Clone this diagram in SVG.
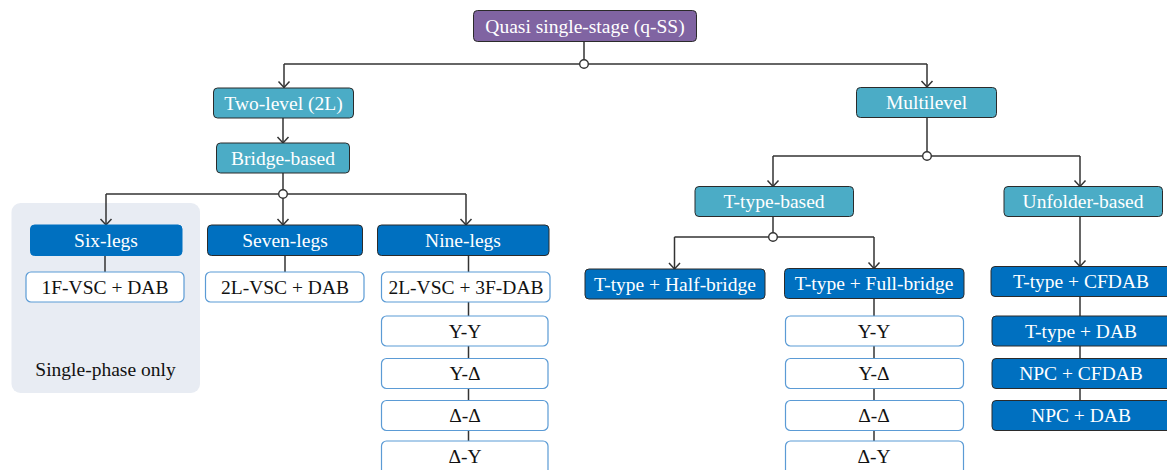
<svg xmlns="http://www.w3.org/2000/svg" width="1167" height="470" viewBox="0 0 1167 470">
  <style>
    text { font-family: "Liberation Serif", "DejaVu Serif", "Times New Roman", serif; font-size: 19.5px; text-anchor: middle; }
    .root rect { fill: #8064A2; stroke: #2b2b2b; stroke-width: 1; }
    .cat rect { fill: #4BACC6; stroke: #2b2b2b; stroke-width: 1; }
    .topo rect { fill: #0070C0; stroke: #2b2b2b; stroke-width: 1; }
    .topo.flat rect { stroke: #0070C0; }
    .leaf rect { fill: #ffffff; stroke: #5B9BD5; stroke-width: 1.2; }
    .root text, .cat text, .topo text { fill: #ffffff; }
    .leaf text, .note { fill: #111111; }
    .wire { fill: none; stroke: #333333; stroke-width: 1.5; }
    .arrow { marker-end: url(#chev); }
    .joint { fill: #ffffff; stroke: #333333; stroke-width: 1.4; }
  </style>
  <defs>
    <!-- open chevron arrowhead, tip at the end of the wire -->
    <marker id="chev" markerUnits="userSpaceOnUse" markerWidth="16" markerHeight="16" viewBox="-8 -8 16 16" refX="0" refY="0" orient="auto" overflow="visible">
      <path d="M-6,-5.5 L0,0 L-6,5.5" fill="none" stroke="#333333" stroke-width="1.5"/>
    </marker>
  </defs>

  <rect width="1167" height="470" fill="#ffffff"/>

  <!-- single-phase panel -->
  <rect x="11.5" y="203" width="188.5" height="190" rx="9" fill="#E8ECF3"/>
  <text class="note" x="105.5" y="376">Single-phase only</text>

  <!-- connectors -->
  <g id="connectors">
    <path class="wire" d="M584,41.5 V64"/>
    <path class="wire" d="M284,64 H927"/>
    <path class="wire arrow" d="M284,64 V87.5"/>
    <path class="wire arrow" d="M927,64 V87"/>

    <path class="wire arrow" d="M283,118 V143"/>
    <path class="wire" d="M283,173 V194"/>
    <path class="wire" d="M106,194 H466"/>
    <path class="wire arrow" d="M106,194 V225"/>
    <path class="wire arrow" d="M283,194 V225"/>
    <path class="wire arrow" d="M466,194 V225"/>

    <path class="wire" d="M105,255 V272"/>
    <path class="wire" d="M285,255 V272"/>
    <path class="wire" d="M468.5,255 V442"/>

    <path class="wire" d="M927,117 V156"/>
    <path class="wire" d="M773,156 H1080"/>
    <path class="wire arrow" d="M773,156 V186.5"/>
    <path class="wire arrow" d="M1080,156 V186.5"/>

    <path class="wire" d="M773,216.5 V237"/>
    <path class="wire" d="M674.5,237 H874"/>
    <path class="wire arrow" d="M674.5,237 V269"/>
    <path class="wire arrow" d="M874,237 V268.5"/>
    <path class="wire" d="M874,298.5 V442"/>

    <path class="wire arrow" d="M1080,216.5 V266.5"/>
    <path class="wire" d="M1080,296.5 V401"/>

    <circle class="joint" cx="584" cy="64" r="4.3"/>
    <circle class="joint" cx="283" cy="194" r="4.3"/>
    <circle class="joint" cx="927" cy="156" r="4.3"/>
    <circle class="joint" cx="773" cy="237" r="4.3"/>
  </g>

  <!-- root -->
  <g id="qss" class="root">
    <rect x="473.5" y="10.5" width="223" height="31" rx="4"/>
    <text x="585" y="32.5">Quasi single-stage (q-SS)</text>
  </g>

  <!-- two-level branch -->
  <g id="two-level" class="cat">
    <rect x="213.5" y="88" width="140" height="30" rx="4"/>
    <text x="283.5" y="109.5">Two-level (2L)</text>
  </g>
  <g id="bridge-based" class="cat">
    <rect x="216.5" y="143" width="133" height="30" rx="4"/>
    <text x="283" y="164.5">Bridge-based</text>
  </g>

  <g id="six-legs" class="topo flat">
    <rect x="30.5" y="225" width="151.5" height="30.5" rx="4"/>
    <text x="106" y="246.5">Six-legs</text>
  </g>
  <g id="seven-legs" class="topo">
    <rect x="207.5" y="225" width="155" height="30.5" rx="4"/>
    <text x="285" y="246.5">Seven-legs</text>
  </g>
  <g id="nine-legs" class="topo">
    <rect x="377.5" y="225" width="171.5" height="30.5" rx="4"/>
    <text x="463" y="246.5">Nine-legs</text>
  </g>

  <g id="1f-vsc-dab" class="leaf">
    <rect x="26" y="272" width="158" height="30" rx="5"/>
    <text x="105" y="293.5">1F-VSC + DAB</text>
  </g>
  <g id="2l-vsc-dab" class="leaf">
    <rect x="205.5" y="272" width="158.5" height="30" rx="5"/>
    <text x="285" y="293.5">2L-VSC + DAB</text>
  </g>
  <g id="2l-vsc-3f-dab" class="leaf">
    <rect x="381.5" y="272" width="168.5" height="30" rx="5"/>
    <text x="466" y="293.5">2L-VSC + 3F-DAB</text>
  </g>
  <g id="nl-yy" class="leaf">
    <rect x="381.5" y="316" width="166.5" height="30" rx="5"/>
    <text x="465" y="337.5">Y-Y</text>
  </g>
  <g id="nl-yd" class="leaf">
    <rect x="381.5" y="358.5" width="166.5" height="30" rx="5"/>
    <text x="465" y="380">Y-Δ</text>
  </g>
  <g id="nl-dd" class="leaf">
    <rect x="381.5" y="400.5" width="166.5" height="30" rx="5"/>
    <text x="465" y="422">Δ-Δ</text>
  </g>
  <g id="nl-dy" class="leaf">
    <rect x="381.5" y="441" width="166.5" height="34" rx="5"/>
    <text x="465" y="462.5">Δ-Y</text>
  </g>

  <!-- multilevel branch -->
  <g id="multilevel" class="cat">
    <rect x="856.5" y="87.5" width="140" height="30" rx="4"/>
    <text x="926.5" y="109">Multilevel</text>
  </g>
  <g id="t-type-based" class="cat">
    <rect x="695" y="186.5" width="158.5" height="30" rx="4"/>
    <text x="774" y="208">T-type-based</text>
  </g>
  <g id="unfolder-based" class="cat">
    <rect x="1004" y="186.5" width="158.5" height="30" rx="4"/>
    <text x="1083" y="208">Unfolder-based</text>
  </g>

  <g id="t-half-bridge" class="topo">
    <rect x="585" y="269" width="180" height="30" rx="4"/>
    <text x="675" y="290.5">T-type + Half-bridge</text>
  </g>
  <g id="t-full-bridge" class="topo">
    <rect x="784.5" y="268.5" width="179.5" height="30" rx="4"/>
    <text x="874" y="290">T-type + Full-bridge</text>
  </g>
  <g id="fb-yy" class="leaf">
    <rect x="785.5" y="316" width="178" height="30" rx="5"/>
    <text x="874" y="337.5">Y-Y</text>
  </g>
  <g id="fb-yd" class="leaf">
    <rect x="785.5" y="358.5" width="178" height="30" rx="5"/>
    <text x="874" y="380">Y-Δ</text>
  </g>
  <g id="fb-dd" class="leaf">
    <rect x="785.5" y="400.5" width="178" height="30" rx="5"/>
    <text x="874" y="422">Δ-Δ</text>
  </g>
  <g id="fb-dy" class="leaf">
    <rect x="785.5" y="441" width="178" height="34" rx="5"/>
    <text x="874" y="462.5">Δ-Y</text>
  </g>

  <g id="t-cfdab" class="topo">
    <rect x="991" y="266.5" width="180" height="30" rx="4"/>
    <text x="1081" y="288">T-type + CFDAB</text>
  </g>
  <g id="t-dab" class="topo">
    <rect x="992" y="316" width="180" height="30" rx="4"/>
    <text x="1081" y="337.5">T-type + DAB</text>
  </g>
  <g id="npc-cfdab" class="topo">
    <rect x="992" y="358.5" width="180" height="30" rx="4"/>
    <text x="1081" y="380">NPC + CFDAB</text>
  </g>
  <g id="npc-dab" class="topo">
    <rect x="992" y="400.5" width="180" height="30" rx="4"/>
    <text x="1081" y="422">NPC + DAB</text>
  </g>
</svg>
